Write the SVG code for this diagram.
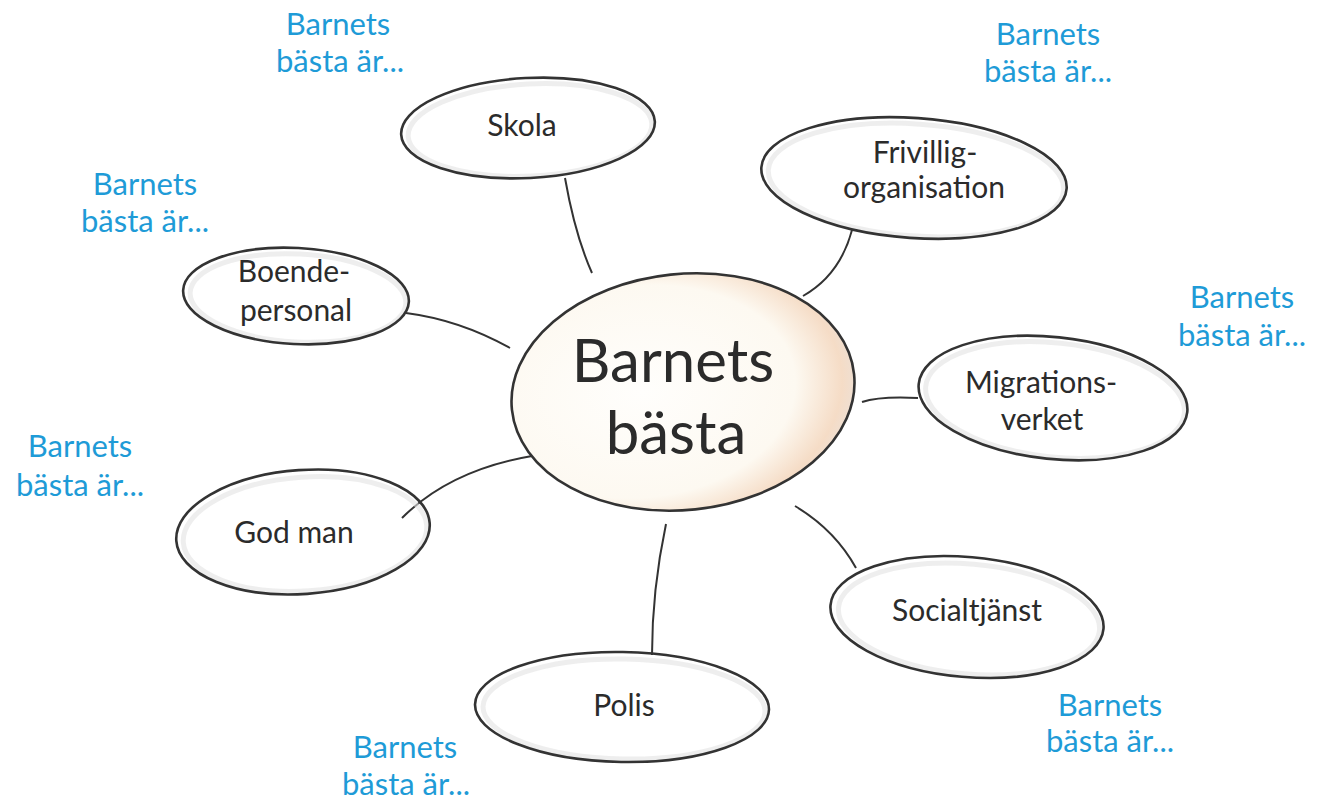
<svg xmlns="http://www.w3.org/2000/svg" width="1326" height="803" viewBox="0 0 1326 803">
<defs>
<style>
.node{fill:none;stroke:#333333;stroke-width:2.6}
.shadow{fill:none;stroke:#e2e2e2;stroke-width:5;opacity:0.6}
.lbl{font-family:Lato,"Noto Sans",sans-serif;fill:#2b2b2b;text-anchor:middle;font-size:30px}
.blue{font-family:Lato,"Noto Sans",sans-serif;fill:#1e9bd7;text-anchor:middle;font-size:31px}
.conn{fill:none;stroke:#333333;stroke-width:2}
</style>
<radialGradient id="cg" cx="0.38" cy="0.48" r="0.68">
<stop offset="0" stop-color="#fffefc"/>
<stop offset="0.66" stop-color="#fdf9f1"/>
<stop offset="0.86" stop-color="#f5dcc6"/>
<stop offset="1" stop-color="#e6e4e4"/>
</radialGradient>
</defs>
<rect width="1326" height="803" fill="#ffffff"/>
<g id="connectors">
<path class="conn" d="M565,178 Q575,235 592,273"/>
<path class="conn" d="M852,230 Q840,275 803,296"/>
<path class="conn" d="M406,313 Q460,320 510,348"/>
<path class="conn" d="M862,402 Q880,396 918,398"/>
<path class="conn" d="M402,518 Q450,470 532,456"/>
<path class="conn" d="M795,506 Q835,530 856,568"/>
<path class="conn" d="M666,524 Q652,590 652,655"/>
</g>
<g id="center">
<ellipse cx="683" cy="392" rx="172" ry="118" transform="rotate(-6 683 392)" fill="url(#cg)" stroke="#333333" stroke-width="2.6"/>
<text class="lbl" x="673" y="382" style="font-size:60px">Barnets</text>
<text class="lbl" x="676" y="454" style="font-size:60px">bästa</text>
</g>
<g id="skola">
<ellipse class="shadow" cx="530" cy="130" rx="122" ry="46" transform="rotate(-3 530 130)"/>
<ellipse class="node" cx="528" cy="128" rx="127" ry="50" transform="rotate(-3 528 128)"/>
<text class="lbl" x="522" y="136">Skola</text>
</g>
<g id="frivillig">
<ellipse class="shadow" cx="916" cy="180" rx="148" ry="56" transform="rotate(4 916 180)"/>
<ellipse class="node" cx="914" cy="178" rx="153" ry="60" transform="rotate(4 914 178)"/>
<text class="lbl" x="925" y="163">Frivillig-</text>
<text class="lbl" x="924" y="198">organisation</text>
</g>
<g id="boende">
<ellipse class="shadow" cx="298" cy="298" rx="108" ry="44" transform="rotate(3 298 298)"/>
<ellipse class="node" cx="296" cy="296" rx="113" ry="48" transform="rotate(3 296 296)"/>
<text class="lbl" x="294" y="282">Boende-</text>
<text class="lbl" x="296" y="321">personal</text>
</g>
<g id="migration">
<ellipse class="shadow" cx="1055" cy="400" rx="130" ry="57" transform="rotate(6 1055 400)"/>
<ellipse class="node" cx="1053" cy="398" rx="135" ry="61" transform="rotate(6 1053 398)"/>
<text class="lbl" x="1041" y="393">Migrations-</text>
<text class="lbl" x="1042" y="430">verket</text>
</g>
<g id="godman">
<ellipse class="shadow" cx="305" cy="534" rx="122" ry="57" transform="rotate(-4 305 534)"/>
<ellipse class="node" cx="303" cy="532" rx="127" ry="62" transform="rotate(-4 303 532)"/>
<text class="lbl" x="294" y="543">God man</text>
</g>
<g id="social">
<ellipse class="shadow" cx="969" cy="619" rx="131" ry="55" transform="rotate(5 969 619)"/>
<ellipse class="node" cx="967" cy="617" rx="137" ry="60" transform="rotate(5 967 617)"/>
<text class="lbl" x="967" y="621">Socialtjänst</text>
</g>
<g id="polis">
<ellipse class="shadow" cx="624" cy="709" rx="141" ry="50" transform="rotate(1 624 709)"/>
<ellipse class="node" cx="622" cy="707" rx="147" ry="55" transform="rotate(1 622 707)"/>
<text class="lbl" x="624" y="716">Polis</text>
</g>
<g id="labels">
<text class="blue" x="338" y="35">Barnets</text>
<text class="blue" x="340" y="72">bästa är...</text>
<text class="blue" x="1048" y="45">Barnets</text>
<text class="blue" x="1048" y="82">bästa är...</text>
<text class="blue" x="145" y="195">Barnets</text>
<text class="blue" x="145" y="232">bästa är...</text>
<text class="blue" x="1242" y="308">Barnets</text>
<text class="blue" x="1242" y="346">bästa är...</text>
<text class="blue" x="80" y="457">Barnets</text>
<text class="blue" x="80" y="496">bästa är...</text>
<text class="blue" x="1110" y="716">Barnets</text>
<text class="blue" x="1110" y="752">bästa är...</text>
<text class="blue" x="405" y="758">Barnets</text>
<text class="blue" x="406" y="795">bästa är...</text>
</g>
</svg>
